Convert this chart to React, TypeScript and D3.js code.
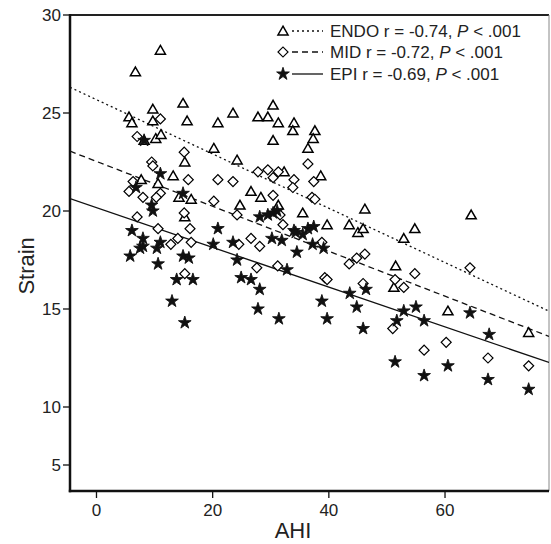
import React from "react";
import * as d3 from "d3";

// ENDO (triangles)
const endoAHI = [11.0, 6.7, 9.7, 14.9, 5.6, 6.1, 9.7, 15.6, 8.2, 10.2, 11.1, 15.2, 7.7, 10.6, 13.2, 14.2, 16.3, 15.2, 30.4, 23.5, 20.9, 27.8, 29.5, 31.3, 34.0, 33.8, 37.6, 37.3, 30.4, 36.4, 20.2, 24.2, 32.3, 38.6, 26.6, 28.3, 31.3, 24.7, 35.5, 39.7, 46.2, 43.5, 45.0, 45.9, 54.8, 52.9, 51.5, 51.2, 64.5, 60.5, 74.4];
const endoStrain = [28.2, 27.1, 25.2, 25.5, 24.8, 24.5, 24.6, 24.6, 23.6, 23.7, 23.9, 22.5, 21.6, 21.4, 21.8, 20.7, 20.6, 19.7, 25.4, 25.0, 24.5, 24.8, 24.8, 24.5, 24.5, 24.1, 24.1, 23.7, 23.6, 23.2, 23.2, 22.6, 22.0, 21.8, 21.0, 20.7, 20.3, 20.3, 19.9, 19.3, 20.1, 19.3, 18.9, 19.1, 19.1, 18.6, 17.2, 16.1, 19.8, 14.9, 13.8];

// MID (diamonds)
const midAHI = [11.0, 7.0, 15.1, 9.5, 9.7, 15.8, 6.3, 5.6, 8.0, 11.0, 10.3, 7.0, 10.6, 14.0, 16.3, 12.8, 15.1, 16.1, 15.2, 36.4, 27.8, 29.5, 31.3, 30.4, 20.9, 23.5, 34.0, 33.8, 37.4, 30.4, 20.2, 37.1, 37.6, 24.2, 31.6, 32.1, 26.6, 28.1, 24.5, 27.6, 31.2, 38.8, 39.3, 39.7, 43.5, 44.8, 46.2, 45.9, 51.4, 52.9, 54.8, 51.0, 56.4, 64.3, 60.2, 67.4, 74.4];
const midStrain = [24.7, 23.8, 23.0, 22.5, 22.3, 21.6, 21.5, 21.0, 20.7, 20.9, 20.7, 19.7, 19.1, 18.6, 18.4, 18.3, 19.9, 19.1, 16.8, 22.4, 22.0, 22.1, 22.0, 21.7, 21.6, 21.5, 21.6, 21.2, 21.5, 20.8, 20.5, 20.7, 20.6, 19.8, 19.8, 19.3, 18.6, 18.2, 18.3, 17.1, 17.2, 18.4, 16.6, 16.5, 17.3, 17.6, 17.8, 16.3, 16.5, 16.1, 16.8, 14.0, 12.9, 17.1, 13.3, 12.5, 12.1];

// EPI (stars)
const epiAHI = [11.0, 6.8, 14.9, 9.5, 9.7, 6.1, 8.0, 7.5, 8.0, 10.4, 11.0, 5.8, 10.6, 14.9, 15.9, 13.8, 16.6, 13.0, 15.2, 28.1, 29.5, 30.4, 31.1, 20.9, 34.0, 34.3, 36.4, 37.4, 35.5, 30.2, 31.9, 20.1, 23.5, 37.2, 39.1, 34.5, 24.2, 32.8, 24.9, 26.6, 28.1, 27.8, 31.4, 38.8, 39.7, 43.6, 44.8, 46.4, 52.9, 55.0, 56.4, 51.7, 51.4, 56.4, 64.3, 67.6, 60.5, 67.4, 74.4, 45.9, 8.2];
const epiStrain = [21.9, 21.2, 20.9, 20.3, 20.0, 19.0, 18.6, 18.1, 18.2, 18.1, 18.4, 17.7, 17.3, 17.7, 17.6, 16.5, 16.5, 15.4, 14.3, 19.7, 19.8, 19.9, 20.0, 19.1, 19.0, 18.9, 19.1, 19.2, 18.8, 18.6, 18.5, 18.3, 18.4, 18.3, 18.1, 17.9, 17.5, 17.0, 16.6, 16.5, 16.0, 15.0, 14.5, 15.4, 14.5, 15.8, 15.1, 16.0, 14.9, 15.1, 14.4, 14.4, 12.3, 11.6, 14.8, 13.7, 12.1, 11.4, 10.9, 14.0, 23.6];

// regression lines
const fitNames = ["ENDO", "MID", "EPI"];
const fitIntercept = [25.68, 22.53, 20.17];
const fitSlope = [-0.1385, -0.1146, -0.1014];
const fitR = ["-0.74", "-0.72", "-0.69"];

const xTicks = [0, 20, 40, 60];
const yTicks = [5, 10, 15, 20, 25, 30];

const W = 551;
const H = 544;
const left = 70, right = 549, top = 15, bottom = 491;

export default function App() {
  const x = d3.scaleLinear().domain([-4.56, 77.9]).range([left, right]);
  // axis as printed in the reference: 5-unit steps of 98 px above 10, compressed between 10 and 5
  const y = d3.scaleLinear().domain([2.76, 5, 10, 30]).range([bottom, 465, 407, top]);

  const tri = d3.symbol(d3.symbolTriangle, 44)()!;
  const dia = d3.symbol(d3.symbolSquare, 50)()!;
  const star = d3.symbol(d3.symbolStar, 50)()!;

  const dashes = ["2,3", "6,4", ""];
  const font = "'Liberation Sans', Arial, sans-serif";
  const [x0, x1] = x.domain();

  const marker = (i: number, cx: number, cy: number, key: string | number) => {
    if (i === 0)
      return <path key={key} d={tri} transform={`translate(${cx},${cy + 1})`} fill="#fff" stroke="#000" strokeWidth={1.5} />;
    if (i === 1)
      return <path key={key} d={dia} transform={`translate(${cx},${cy}) rotate(45)`} fill="#fff" stroke="#000" strokeWidth={1.2} />;
    return <path key={key} d={star} transform={`translate(${cx},${cy})`} fill="#111" stroke="#111" strokeWidth={0.9} strokeLinejoin="round" />;
  };

  const legendY = [31, 52, 74];

  return (
    <svg width={W} height={H} style={{ position: "absolute", left: 0, top: 0, background: "#fff" }} fontFamily={font}>
      <rect x={0} y={0} width={W} height={H} fill="#fff" />
      <line x1={left} x2={right} y1={top} y2={top} stroke="#222" strokeWidth={2} />
      <line x1={right} x2={right} y1={top} y2={bottom} stroke="#888" strokeWidth={1} />
      <line x1={left} x2={left} y1={top - 1} y2={bottom + 1.2} stroke="#111" strokeWidth={2.5} />
      <line x1={left - 1.2} x2={right} y1={bottom} y2={bottom} stroke="#111" strokeWidth={2.5} />

      {yTicks.map((t) => (
        <g key={"y" + t}>
          <line x1={left - 7} x2={left} y1={y(t)} y2={y(t)} stroke="#111" strokeWidth={1.3} />
          <text x={left - 9} y={y(t)} dy="0.35em" textAnchor="end" fontSize={17} fill="#222">{t}</text>
        </g>
      ))}
      {xTicks.map((t) => (
        <g key={"x" + t}>
          <line x1={x(t)} x2={x(t)} y1={bottom} y2={bottom + 7} stroke="#111" strokeWidth={1.3} />
          <text x={x(t)} y={bottom + 25} textAnchor="middle" fontSize={17} fill="#222">{t}</text>
        </g>
      ))}
      <text x={293} y={538} textAnchor="middle" fontSize={22} fill="#222">AHI</text>
      <text transform={`translate(34,${y(17.2)}) rotate(-90)`} textAnchor="middle" fontSize={22} fill="#222">Strain</text>

      <defs>
        <clipPath id="plot"><rect x={left} y={top} width={right - left} height={bottom - top} /></clipPath>
      </defs>
      <g clipPath="url(#plot)">
        {fitIntercept.map((b, i) => (
          <line key={"f" + i} x1={x(x0)} x2={x(x1)} y1={y(b + fitSlope[i] * x0)} y2={y(b + fitSlope[i] * x1)}
            stroke="#111" strokeWidth={1.3} strokeDasharray={dashes[i]} />
        ))}
        {endoAHI.map((a, k) => marker(0, x(a), y(endoStrain[k]), "e" + k))}
        {midAHI.map((a, k) => marker(1, x(a), y(midStrain[k]), "m" + k))}
        {epiAHI.map((a, k) => marker(2, x(a), y(epiStrain[k]), "p" + k))}
      </g>

      {fitNames.map((n, i) => (
        <g key={"l" + i}>
          {marker(i, 283, legendY[i], "lm" + i)}
          <line x1={292} x2={323} y1={legendY[i]} y2={legendY[i]} stroke="#111" strokeWidth={1.3} strokeDasharray={dashes[i]} />
          <text x={330} y={legendY[i]} dy="0.36em" fontSize={17} fill="#222">
            {n} r = {fitR[i]}, <tspan fontStyle="italic">P</tspan> {"< .001"}
          </text>
        </g>
      ))}
    </svg>
  );
}
